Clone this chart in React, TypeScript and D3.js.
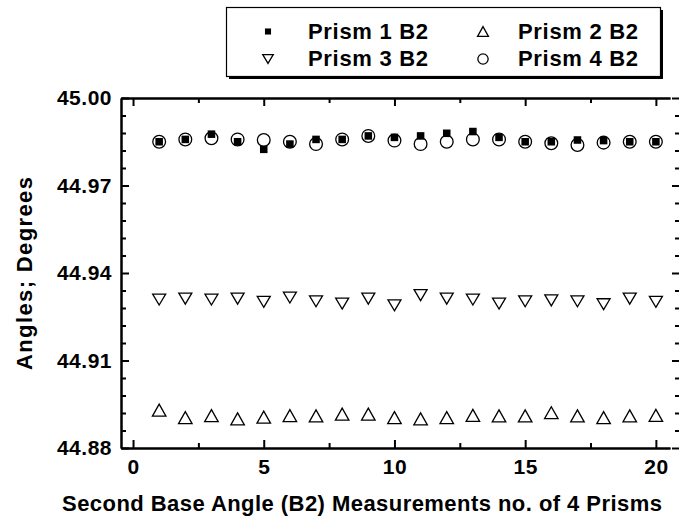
import React, { useEffect, useRef } from 'react';
import * as d3 from 'd3';

// measurement number on the x axis
const measurementNo = [1, 2, 3, 4, 5, 6, 7, 8, 9, 10, 11, 12, 13, 14, 15, 16, 17, 18, 19, 20];

// angles (degrees)
const prism1B2 = [44.9850, 44.9858, 44.9876, 44.9850, 44.9824, 44.9842, 44.9858, 44.9858, 44.9870, 44.9865,
  44.9870, 44.9879, 44.9885, 44.9865, 44.9850, 44.9850, 44.9856, 44.9854, 44.9850, 44.9850];
const prism2B2 = [44.8930, 44.8904, 44.8911, 44.8900, 44.8906, 44.8911, 44.8910, 44.8916, 44.8916, 44.8904,
  44.8900, 44.8904, 44.8912, 44.8910, 44.8910, 44.8921, 44.8910, 44.8904, 44.8910, 44.8912];
const prism3B2 = [44.9309, 44.9312, 44.9309, 44.9312, 44.9301, 44.9316, 44.9303, 44.9295, 44.9312, 44.9289,
  44.9324, 44.9312, 44.9309, 44.9295, 44.9303, 44.9306, 44.9303, 44.9293, 44.9312, 44.9301];
const prism4B2 = [44.9850, 44.9858, 44.9862, 44.9858, 44.9856, 44.9850, 44.9842, 44.9858, 44.9870, 44.9854,
  44.9842, 44.9850, 44.9858, 44.9858, 44.9850, 44.9845, 44.9839, 44.9847, 44.9850, 44.9850];

const legendLabels = ['Prism 1 B2', 'Prism 2 B2', 'Prism 3 B2', 'Prism 4 B2'];
const xTicks = [0, 5, 10, 15, 20];
const xMinorTicks = [2.5, 7.5, 12.5, 17.5];
const yTicks = [44.88, 44.91, 44.94, 44.97, 45.0];
const xTitle = 'Second Base Angle (B2) Measurements no. of 4 Prisms';
const yTitle = 'Angles; Degrees';

const W = 679, H = 525;
const frame = { left: 121, right: 670, top: 98, bottom: 448 };
const FONT = 'Arial, "Liberation Sans", sans-serif';

// marker shapes, centred on 0,0
function markerPath(kind: string, s: number) {
  if (kind === 'up') return `M0,${-s * 0.46}L${s * 0.52},${s * 0.46}L${-s * 0.52},${s * 0.46}Z`;
  if (kind === 'down') return `M0,${s * 0.42}L${s * 0.5},${-s * 0.42}L${-s * 0.5},${-s * 0.42}Z`;
  return '';
}

function drawMarker(g: any, kind: string, x: number, y: number, s: number) {
  if (kind === 'square') {
    g.append('rect').attr('x', x - s * 0.29).attr('y', y - s * 0.29)
      .attr('width', s * 0.58).attr('height', s * 0.58).attr('fill', '#000');
  } else if (kind === 'circle') {
    g.append('circle').attr('cx', x).attr('cy', y).attr('r', s * 0.49)
      .attr('fill', 'none').attr('stroke', '#000').attr('stroke-width', 1.3);
  } else {
    g.append('path').attr('d', markerPath(kind, s)).attr('transform', `translate(${x},${y})`)
      .attr('fill', 'none').attr('stroke', '#000').attr('stroke-width', 1.3);
  }
}

export default function App() {
  const svgRef = useRef<SVGSVGElement>(null);

  useEffect(() => {
    const svg = d3.select(svgRef.current);
    svg.selectAll('*').remove();

    const x = d3.scaleLinear().domain([-0.46, 20.54]).range([frame.left, frame.right]);
    const y = d3.scaleLinear().domain([44.88, 45.0]).range([frame.bottom, frame.top]);
    const yMinor = d3.range(44.886, 45.0, 0.006).filter(v => !yTicks.some(t => Math.abs(t - v) < 1e-6));

    const styleAxis = (g: any) => {
      g.select('.domain').attr('stroke-width', 2);
      g.selectAll('.tick line').attr('stroke-width', 2);
      g.selectAll('text').attr('font-family', FONT).attr('font-size', 21)
        .attr('font-weight', 'bold').attr('letter-spacing', 0.5).attr('fill', '#000');
    };

    // bottom axis
    svg.append('g').attr('transform', `translate(0,${frame.bottom})`)
      .call(d3.axisBottom(x).tickValues(xTicks).tickSizeInner(-8).tickSizeOuter(0).tickPadding(11).tickFormat(d3.format('d')))
      .call(styleAxis);
    svg.append('g').attr('transform', `translate(0,${frame.bottom})`)
      .call(d3.axisBottom(x).tickValues(xMinorTicks).tickSizeInner(-5).tickSizeOuter(0).tickFormat(() => ''))
      .call(styleAxis);
    // top axis
    svg.append('g').attr('transform', `translate(0,${frame.top})`)
      .call(d3.axisTop(x).tickValues(xTicks).tickSizeInner(-8).tickSizeOuter(0).tickFormat(() => ''))
      .call(styleAxis);
    svg.append('g').attr('transform', `translate(0,${frame.top})`)
      .call(d3.axisTop(x).tickValues(xMinorTicks).tickSizeInner(-5).tickSizeOuter(0).tickFormat(() => ''))
      .call(styleAxis);
    // left axis
    svg.append('g').attr('transform', `translate(${frame.left},0)`)
      .call(d3.axisLeft(y).tickValues(yTicks).tickSizeInner(-8).tickSizeOuter(0).tickPadding(9).tickFormat(d3.format('.2f')))
      .call(styleAxis);
    svg.append('g').attr('transform', `translate(${frame.left},0)`)
      .call(d3.axisLeft(y).tickValues(yMinor).tickSizeInner(-5).tickSizeOuter(0).tickFormat(() => ''))
      .call(styleAxis);
    // right axis (its line falls just outside the picture)
    const right = svg.append('g').attr('transform', `translate(${W},0)`);
    right.append('g').call(d3.axisRight(y).tickValues(yTicks).tickSizeInner(-7).tickSizeOuter(0).tickFormat(() => '')).call(styleAxis);
    right.append('g').call(d3.axisRight(y).tickValues(yMinor).tickSizeInner(-4).tickSizeOuter(0).tickFormat(() => '')).call(styleAxis);
    right.selectAll('.domain').remove();

    // data points
    const pts = svg.append('g');
    const series: [number[], string][] = [[prism4B2, 'circle'], [prism1B2, 'square'], [prism2B2, 'up'], [prism3B2, 'down']];
    series.forEach(([vals, kind]) => {
      vals.forEach((v, i) => drawMarker(pts, kind, x(measurementNo[i]), y(v), 13));
    });

    // axis titles
    svg.append('text').attr('x', 362).attr('y', 511).attr('text-anchor', 'middle')
      .attr('font-family', FONT).attr('font-size', 22).attr('font-weight', 'bold')
      .attr('textLength', 600).attr('lengthAdjust', 'spacing').text(xTitle);
    svg.append('text').attr('transform', 'translate(32,273.5) rotate(-90)').attr('text-anchor', 'middle')
      .attr('font-family', FONT).attr('font-size', 22).attr('font-weight', 'bold')
      .attr('textLength', 193).attr('lengthAdjust', 'spacing').text(yTitle);

    // legend box with shadow
    const lg = svg.append('g');
    lg.append('rect').attr('x', 229).attr('y', 10).attr('width', 434).attr('height', 69).attr('fill', '#000');
    lg.append('rect').attr('x', 226.5).attr('y', 7.5).attr('width', 434).attr('height', 69)
      .attr('fill', '#fff').attr('stroke', '#000').attr('stroke-width', 1.2);
    const kinds = ['square', 'up', 'down', 'circle'];
    legendLabels.forEach((lab, i) => {
      const col = i % 2, row = Math.floor(i / 2);
      const cy = row === 0 ? 31.5 : 59;
      drawMarker(lg, kinds[i], col === 0 ? 268 : 483, cy, 10.5);
      lg.append('text').attr('x', col === 0 ? 308 : 518).attr('y', cy + 7)
        .attr('font-family', FONT).attr('font-size', 22).attr('font-weight', 'bold')
        .attr('textLength', 120).attr('lengthAdjust', 'spacing').text(lab);
    });
  });

  return (
    <svg ref={svgRef} width={W} height={H}
      style={{ position: 'absolute', left: 0, top: 0, background: '#fff' }} />
  );
}
